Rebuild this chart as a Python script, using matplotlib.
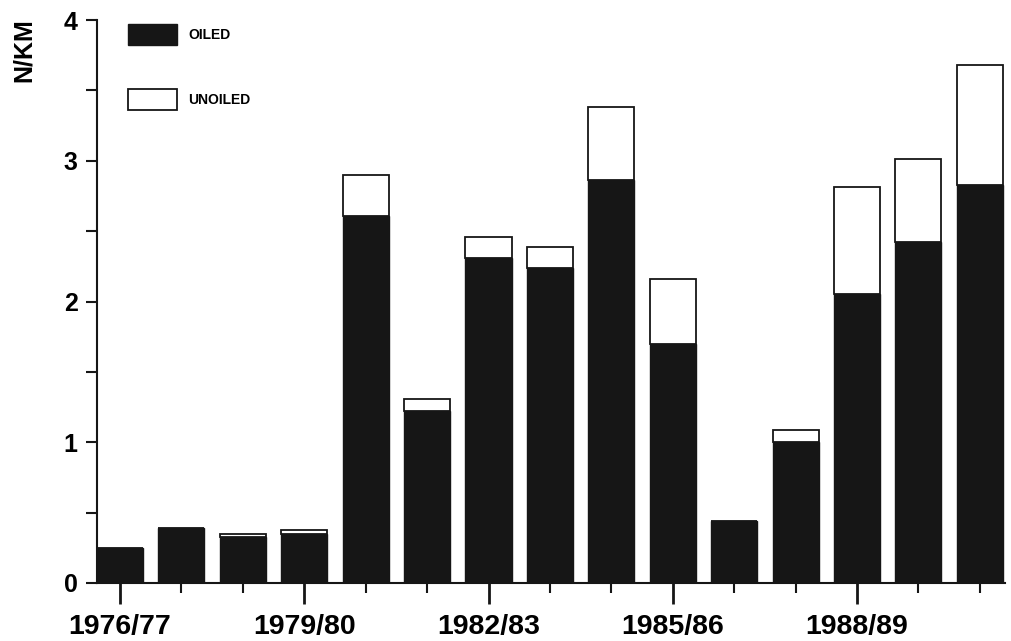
import numpy as np
import matplotlib.pyplot as plt
from matplotlib.ticker import MultipleLocator

# seasons 1976/77 .. 1990/91, density per km
seasons = ['1976/77', '1977/78', '1978/79', '1979/80', '1980/81', '1981/82',
           '1982/83', '1983/84', '1984/85', '1985/86', '1986/87', '1987/88',
           '1988/89', '1989/90', '1990/91']
oiled = [0.25, 0.39, 0.33, 0.35, 2.61, 1.22, 2.31, 2.24, 2.86, 1.70,
         0.44, 1.00, 2.05, 2.42, 2.83]
total = [0.25, 0.39, 0.35, 0.38, 2.90, 1.31, 2.46, 2.39, 3.38, 2.16,
         0.44, 1.09, 2.81, 3.01, 3.68]
unoiled = [t - o for t, o in zip(total, oiled)]

plt.rcParams['font.family'] = ['Liberation Sans', 'DejaVu Sans']

fig = plt.figure(figsize=(10.12, 6.41), dpi=100)
ax = fig.add_axes([97/1012, 58/641, 908/1012, 563/641])

x = np.arange(len(seasons))
ax.bar(x, oiled, width=0.75, color='#161616', edgecolor='#161616',
       linewidth=1.0, label='OILED')
ax.bar(x, unoiled, bottom=oiled, width=0.75, color='white', edgecolor='#161616',
       linewidth=1.3, label='UNOILED')

ax.set_xlim(-0.375, 14.41)
ax.set_ylim(0, 4)

for s in ['top', 'right']:
    ax.spines[s].set_visible(False)
for s in ['left', 'bottom']:
    ax.spines[s].set_linewidth(1.5)
    ax.spines[s].set_color('#161616')

ax.yaxis.set_major_locator(MultipleLocator(1))
ax.yaxis.set_minor_locator(MultipleLocator(0.5))
ax.tick_params(axis='y', which='both', direction='out', length=8, width=1.5,
               color='#161616', pad=6)
ax.tick_params(axis='y', which='major', labelsize=18)
for t in ax.get_yticklabels():
    t.set_fontweight('bold')

major = [i for i in x if i % 3 == 0]
minor = [i for i in x if i % 3 != 0]
ax.set_xticks(major)
ax.set_xticklabels([seasons[i] for i in major], fontsize=20.5, fontweight='bold')
ax.set_xticks(minor, minor=True)
ax.tick_params(axis='x', which='major', length=15, width=2, color='#161616', pad=7)
ax.tick_params(axis='x', which='minor', length=7, width=1.5, color='#161616')

fig.text(24/1012, 1 - 50/641, 'N/KM', rotation=90, ha='center', va='center',
         fontsize=18, fontweight='bold')

ax.legend(loc='upper left', bbox_to_anchor=(19/908, 1.0 + 8/563), frameon=False,
          handlelength=3.5, handleheight=1.9, labelspacing=3.2,
          handletextpad=0.8, prop={'size': 10, 'weight': 'bold'})

fig.savefig('out.png', dpi=100, facecolor='white')
